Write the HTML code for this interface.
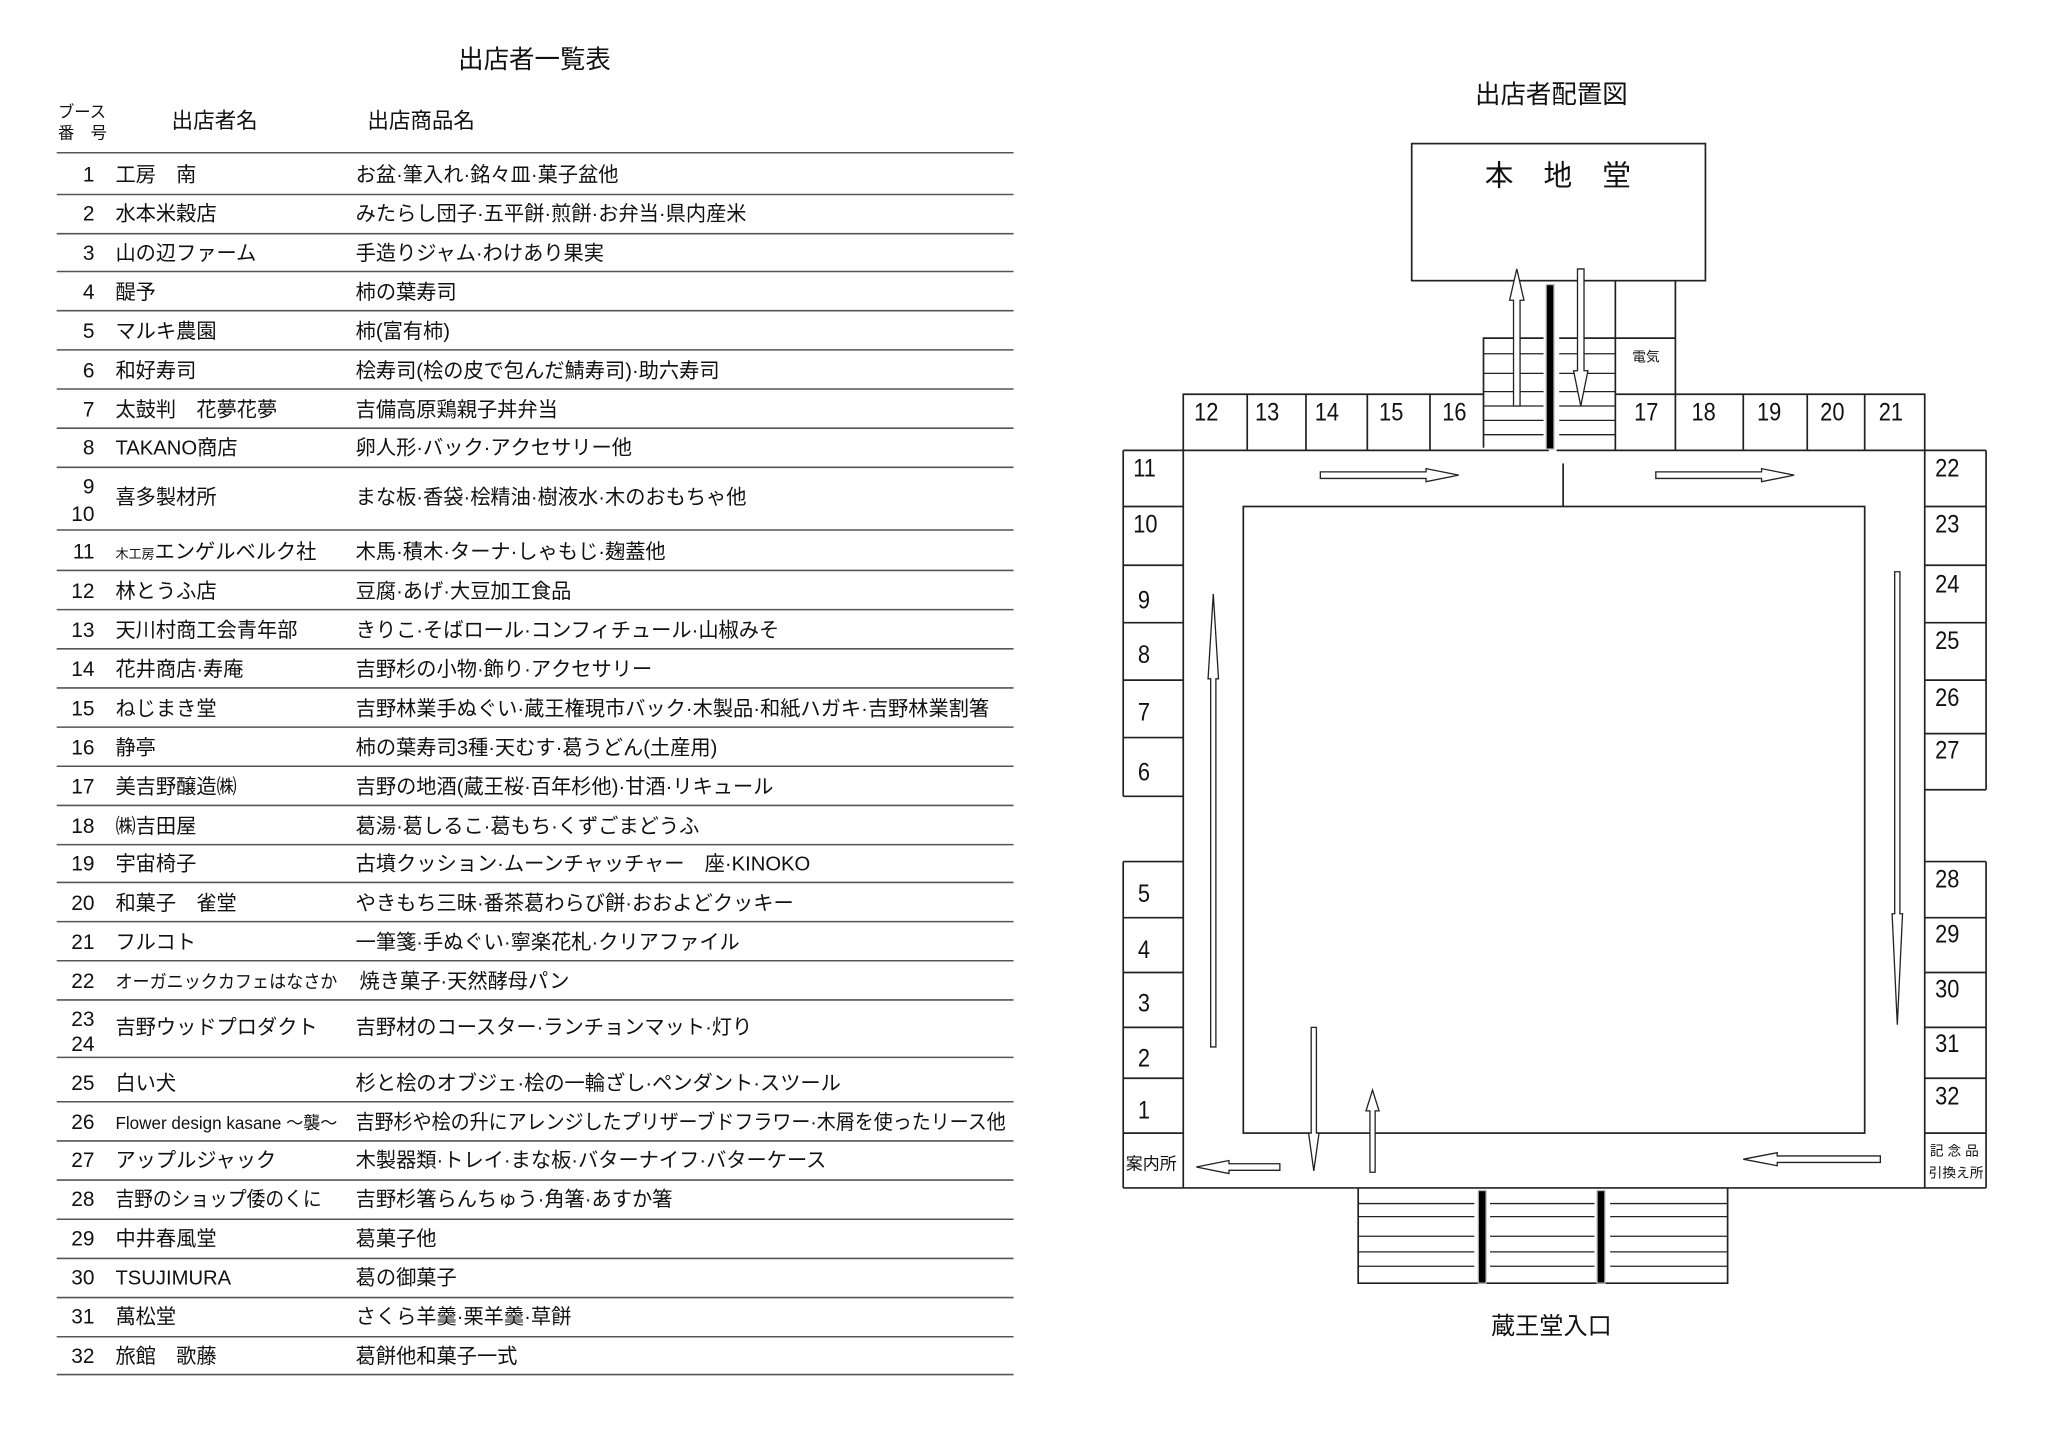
<!DOCTYPE html>
<html><head><meta charset="utf-8"><style>
html,body{margin:0;padding:0;background:#fff;}
svg{display:block;}
text{font-family:"Liberation Sans","Noto Sans CJK JP",sans-serif;fill:#111;}
.s{font-family:"Liberation Serif","Noto Serif CJK SC",serif;}
</style></head><body>
<svg width="2048" height="1449" viewBox="0 0 1568 1110" xmlns="http://www.w3.org/2000/svg">
<rect width="1568" height="1110" fill="#fff"/>
<text x="409" y="52" font-size="19.5" text-anchor="middle">出店者一覧表</text>
<g font-size="12.5"><text x="44" y="90">ブース</text><text x="44" y="106">番　号</text></g>
<g font-size="16.5"><text x="131" y="98">出店者名</text><text x="281" y="98">出店商品名</text></g>
<g stroke="#555" stroke-width="1.2">
<line x1="43" y1="117" x2="776" y2="117"/>
<line x1="43" y1="149" x2="776" y2="149"/>
<line x1="43" y1="179" x2="776" y2="179"/>
<line x1="43" y1="208" x2="776" y2="208"/>
<line x1="43" y1="238" x2="776" y2="238"/>
<line x1="43" y1="268" x2="776" y2="268"/>
<line x1="43" y1="298" x2="776" y2="298"/>
<line x1="43" y1="328" x2="776" y2="328"/>
<line x1="43" y1="358" x2="776" y2="358"/>
<line x1="43" y1="406" x2="776" y2="406"/>
<line x1="43" y1="437" x2="776" y2="437"/>
<line x1="43" y1="467" x2="776" y2="467"/>
<line x1="43" y1="497" x2="776" y2="497"/>
<line x1="43" y1="527" x2="776" y2="527"/>
<line x1="43" y1="557" x2="776" y2="557"/>
<line x1="43" y1="587" x2="776" y2="587"/>
<line x1="43" y1="617" x2="776" y2="617"/>
<line x1="43" y1="647" x2="776" y2="647"/>
<line x1="43" y1="676" x2="776" y2="676"/>
<line x1="43" y1="706" x2="776" y2="706"/>
<line x1="43" y1="736" x2="776" y2="736"/>
<line x1="43" y1="766" x2="776" y2="766"/>
<line x1="43" y1="810" x2="776" y2="810"/>
<line x1="43" y1="844" x2="776" y2="844"/>
<line x1="43" y1="874" x2="776" y2="874"/>
<line x1="43" y1="904" x2="776" y2="904"/>
<line x1="43" y1="934" x2="776" y2="934"/>
<line x1="43" y1="964" x2="776" y2="964"/>
<line x1="43" y1="994" x2="776" y2="994"/>
<line x1="43" y1="1024" x2="776" y2="1024"/>
<line x1="43" y1="1053" x2="776" y2="1053"/>
</g>
<g font-size="16" text-anchor="end">
<text x="72" y="139">1</text><text x="72" y="169">2</text><text x="72" y="199">3</text><text x="72" y="229">4</text><text x="72" y="259">5</text><text x="72" y="289">6</text><text x="72" y="319">7</text><text x="72" y="348">8</text><text x="72" y="378">9</text><text x="72" y="399">10</text><text x="72" y="428">11</text><text x="72" y="458">12</text><text x="72" y="488">13</text><text x="72" y="518">14</text><text x="72" y="548">15</text><text x="72" y="578">16</text><text x="72" y="608">17</text><text x="72" y="638">18</text><text x="72" y="667">19</text><text x="72" y="697">20</text><text x="72" y="727">21</text><text x="72" y="757">22</text><text x="72" y="786">23</text><text x="72" y="805">24</text><text x="72" y="835">25</text><text x="72" y="865">26</text><text x="72" y="894">27</text><text x="72" y="924">28</text><text x="72" y="954">29</text><text x="72" y="984">30</text><text x="72" y="1014">31</text><text x="72" y="1044">32</text>
</g>
<g font-size="15.5">
<g transform="translate(88,0)">
<text x="0" y="139">工房　南</text><text x="0" y="169">水本米穀店</text><text x="0" y="199">山の辺ファーム</text><text x="0" y="229">醍予</text><text x="0" y="259">マルキ農園</text><text x="0" y="289">和好寿司</text><text x="0" y="319">太鼓判　花夢花夢</text><text x="0" y="348">TAKANO商店</text><text x="0" y="386">喜多製材所</text><text x="0" y="428"><tspan font-size="10">木工房</tspan>エンゲルベルク社</text><text x="0" y="458">林とうふ店</text><text x="0" y="488">天川村商工会青年部</text><text x="0" y="518">花井商店·寿庵</text><text x="0" y="548">ねじまき堂</text><text x="0" y="578">静亭</text><text x="0" y="608">美吉野醸造㈱</text><text x="0" y="638">㈱吉田屋</text><text x="0" y="667">宇宙椅子</text><text x="0" y="697">和菓子　雀堂</text><text x="0" y="727">フルコト</text><text x="0" y="757" font-size="14" textLength="170" lengthAdjust="spacingAndGlyphs">オーガニックカフェはなさか</text><text x="0" y="792">吉野ウッドプロダクト</text><text x="0" y="835">白い犬</text><text x="0" y="865" font-size="13.5" textLength="170" lengthAdjust="spacingAndGlyphs">Flower design kasane ～襲～</text><text x="0" y="894">アップルジャック</text><text x="0" y="924" textLength="158" lengthAdjust="spacingAndGlyphs">吉野のショップ倭のくに</text><text x="0" y="954">中井春風堂</text><text x="0" y="984">TSUJIMURA</text><text x="0" y="1014">萬松堂</text><text x="0" y="1044">旅館　歌藤</text>
</g>
<g transform="translate(272,0)">
<text x="0" y="139">お盆·筆入れ·銘々皿·菓子盆他</text><text x="0" y="169">みたらし団子·五平餅·煎餅·お弁当·県内産米</text><text x="0" y="199">手造りジャム·わけあり果実</text><text x="0" y="229">柿の葉寿司</text><text x="0" y="259">柿(富有柿)</text><text x="0" y="289">桧寿司(桧の皮で包んだ鯖寿司)·助六寿司</text><text x="0" y="319">吉備高原鶏親子丼弁当</text><text x="0" y="348">卵人形·バック·アクセサリー他</text><text x="0" y="386">まな板·香袋·桧精油·樹液水·木のおもちゃ他</text><text x="0" y="428">木馬·積木·ターナ·しゃもじ·麹蓋他</text><text x="0" y="458">豆腐·あげ·大豆加工食品</text><text x="0" y="488">きりこ·そばロール·コンフィチュール·山椒みそ</text><text x="0" y="518">吉野杉の小物·飾り·アクセサリー</text><text x="0" y="548">吉野林業手ぬぐい·蔵王権現市バック·木製品·和紙ハガキ·吉野林業割箸</text><text x="0" y="578">柿の葉寿司3種·天むす·葛うどん(土産用)</text><text x="0" y="608">吉野の地酒(蔵王桜·百年杉他)·甘酒·リキュール</text><text x="0" y="638">葛湯·葛しるこ·葛もち·くずごまどうふ</text><text x="0" y="667">古墳クッション·ムーンチャッチャー　座·KINOKO</text><text x="0" y="697">やきもち三昧·番茶葛わらび餅·おおよどクッキー</text><text x="0" y="727">一筆箋·手ぬぐい·寧楽花札·クリアファイル</text><text x="3" y="757">焼き菓子·天然酵母パン</text><text x="0" y="792">吉野材のコースター·ランチョンマット·灯り</text><text x="0" y="835">杉と桧のオブジェ·桧の一輪ざし·ペンダント·スツール</text><text x="0" y="865" textLength="498" lengthAdjust="spacingAndGlyphs">吉野杉や桧の升にアレンジしたプリザーブドフラワー·木屑を使ったリース他</text><text x="0" y="894">木製器類·トレイ·まな板·バターナイフ·バターケース</text><text x="0" y="924">吉野杉箸らんちゅう·角箸·あすか箸</text><text x="0" y="954">葛菓子他</text><text x="0" y="984">葛の御菓子</text><text x="0" y="1014">さくら羊羹·栗羊羹·草餅</text><text x="0" y="1044">葛餅他和菓子一式</text>
</g>
</g>

<text x="1188" y="79" font-size="19.5" text-anchor="middle">出店者配置図</text>
<g fill="none" stroke="#222" stroke-width="1.3">
<rect x="1081" y="110" width="225" height="105"/>
<polyline points="1136,343 1136,259 1182,259"/>
<line x1="1194" y1="259" x2="1237" y2="259"/>
<line x1="1237" y1="215" x2="1237" y2="345"/>
<line x1="1283" y1="215" x2="1283" y2="345"/>
<line x1="1237" y1="259" x2="1283" y2="259"/>
<g stroke-width="1">
<line x1="1136" y1="271" x2="1182" y2="271"/><line x1="1194" y1="271" x2="1237" y2="271"/>
<line x1="1136" y1="286" x2="1182" y2="286"/><line x1="1194" y1="286" x2="1237" y2="286"/>
<line x1="1136" y1="300" x2="1182" y2="300"/><line x1="1194" y1="300" x2="1237" y2="300"/>
<line x1="1136" y1="311" x2="1182" y2="311"/><line x1="1194" y1="311" x2="1237" y2="311"/>
<line x1="1136" y1="322" x2="1182" y2="322"/><line x1="1194" y1="322" x2="1237" y2="322"/>
<line x1="1136" y1="333" x2="1182" y2="333"/><line x1="1194" y1="333" x2="1237" y2="333"/>
</g>
<polyline points="906,345 906,302 1136,302"/>
<line x1="955" y1="302" x2="955" y2="345"/><line x1="1000" y1="302" x2="1000" y2="345"/><line x1="1047" y1="302" x2="1047" y2="345"/><line x1="1095" y1="302" x2="1095" y2="345"/>
<polyline points="1237,302 1474,302 1474,345"/>
<line x1="1335" y1="302" x2="1335" y2="345"/><line x1="1384" y1="302" x2="1384" y2="345"/><line x1="1428" y1="302" x2="1428" y2="345"/>
<line x1="860" y1="345" x2="1186" y2="345"/><line x1="1192" y1="345" x2="1521" y2="345"/>
<line x1="860" y1="910" x2="1521" y2="910"/>
<line x1="906" y1="345" x2="906" y2="910"/>
<line x1="1474" y1="345" x2="1474" y2="910"/>
<line x1="860" y1="345" x2="860" y2="610"/><line x1="860" y1="660" x2="860" y2="910"/>
<line x1="1521" y1="345" x2="1521" y2="605"/><line x1="1521" y1="660" x2="1521" y2="910"/>
<rect x="952" y="388" width="476" height="480"/>
<line x1="1197" y1="355" x2="1197" y2="388"/>
<line x1="860" y1="388" x2="906" y2="388"/><line x1="860" y1="433" x2="906" y2="433"/><line x1="860" y1="477" x2="906" y2="477"/><line x1="860" y1="521" x2="906" y2="521"/><line x1="860" y1="565" x2="906" y2="565"/><line x1="860" y1="610" x2="906" y2="610"/>
<line x1="860" y1="660" x2="906" y2="660"/><line x1="860" y1="703" x2="906" y2="703"/><line x1="860" y1="745" x2="906" y2="745"/><line x1="860" y1="787" x2="906" y2="787"/><line x1="860" y1="826" x2="906" y2="826"/><line x1="860" y1="868" x2="906" y2="868"/>
<line x1="1474" y1="388" x2="1521" y2="388"/><line x1="1474" y1="433" x2="1521" y2="433"/><line x1="1474" y1="477" x2="1521" y2="477"/><line x1="1474" y1="521" x2="1521" y2="521"/><line x1="1474" y1="562" x2="1521" y2="562"/><line x1="1474" y1="605" x2="1521" y2="605"/>
<line x1="1474" y1="660" x2="1521" y2="660"/><line x1="1474" y1="703" x2="1521" y2="703"/><line x1="1474" y1="745" x2="1521" y2="745"/><line x1="1474" y1="787" x2="1521" y2="787"/><line x1="1474" y1="826" x2="1521" y2="826"/><line x1="1474" y1="868" x2="1521" y2="868"/>
<polyline points="1040,910 1040,983 1323,983 1323,910"/>
<g stroke-width="1">
<line x1="1040" y1="922" x2="1129" y2="922"/><line x1="1141" y1="922" x2="1221" y2="922"/><line x1="1233" y1="922" x2="1323" y2="922"/>
<line x1="1040" y1="932" x2="1129" y2="932"/><line x1="1141" y1="932" x2="1221" y2="932"/><line x1="1233" y1="932" x2="1323" y2="932"/>
<line x1="1040" y1="947" x2="1129" y2="947"/><line x1="1141" y1="947" x2="1221" y2="947"/><line x1="1233" y1="947" x2="1323" y2="947"/>
<line x1="1040" y1="959" x2="1129" y2="959"/><line x1="1141" y1="959" x2="1221" y2="959"/><line x1="1233" y1="959" x2="1323" y2="959"/>
<line x1="1040" y1="970" x2="1129" y2="970"/><line x1="1141" y1="970" x2="1221" y2="970"/><line x1="1233" y1="970" x2="1323" y2="970"/>
</g>
</g>
<rect x="1184" y="218" width="6" height="126" fill="#000" stroke="#bbb" stroke-width="1"/>
<rect x="1132" y="912" width="6" height="71" fill="#000" stroke="#bbb" stroke-width="1"/>
<rect x="1223" y="912" width="6" height="71" fill="#000" stroke="#bbb" stroke-width="1"/>
<g fill="#fff" stroke="#222" stroke-width="1">
<polygon points="1159,311 1159,230 1156,230 1161.5,206 1167,230 1164,230 1164,311"/>
<polygon points="1208,206 1208,284 1205,284 1210.5,311 1216,284 1213,284 1213,206"/>
<polygon points="1011,361.5 1092,361.5 1092,359 1117,364 1092,369 1092,366.5 1011,366.5"/>
<polygon points="1268,361.5 1349,361.5 1349,359 1374,364 1349,369 1349,366.5 1268,366.5"/>
<polygon points="927,802 927,520 925,520 929,455 933,520 931,520 931,802"/>
<polygon points="1451,438 1451,700 1449,700 1453,785 1457,700 1455,700 1455,438"/>
<polygon points="1004,787 1004,868 1002,868 1006,897 1010,868 1008,868 1008,787"/>
<polygon points="1049,898 1049,851 1046,851 1051,835 1056,851 1053,851 1053,898"/>
<polygon points="1440,885.5 1361,885.5 1361,883 1335,888 1361,893 1361,890.5 1440,890.5"/>
<polygon points="980,891.5 941,891.5 941,889 916,894 941,899 941,896.5 980,896.5"/>
</g>
<g font-size="22" text-anchor="middle"><text x="1148" y="142">本</text><text x="1193" y="142">地</text><text x="1238" y="142">堂</text></g>
<text x="1250" y="277" font-size="10.5" fill="#333">電気</text>
<g class="s" font-size="19">
<g transform="scale(0.88,1)">
<text x="1039" y="322">12</text><text x="1092" y="322">13</text><text x="1144" y="322">14</text><text x="1200" y="322">15</text><text x="1255" y="322">16</text>
<text x="1422" y="322">17</text><text x="1472" y="322">18</text><text x="1529" y="322">19</text><text x="1584" y="322">20</text><text x="1635" y="322">21</text>
<text x="986" y="365">11</text><text x="986" y="408">10</text><text x="990" y="466">9</text><text x="990" y="508">8</text><text x="990" y="552">7</text><text x="990" y="598">6</text>
<text x="990" y="691">5</text><text x="990" y="734">4</text><text x="990" y="775">3</text><text x="990" y="817">2</text><text x="990" y="857">1</text>
<text x="1684" y="365">22</text><text x="1684" y="408">23</text><text x="1684" y="454">24</text><text x="1684" y="497">25</text><text x="1684" y="541">26</text><text x="1684" y="581">27</text>
<text x="1684" y="680">28</text><text x="1684" y="722">29</text><text x="1684" y="764">30</text><text x="1684" y="806">31</text><text x="1684" y="846">32</text>
</g>
</g>
<text x="862" y="896" font-size="13">案内所</text>
<g font-size="10.5"><text x="1478" y="885" letter-spacing="3">記念品</text><text x="1477" y="902">引換え所</text></g>
<text x="1188" y="1022" font-size="18.5" text-anchor="middle">蔵王堂入口</text>
</svg>
</body></html>
